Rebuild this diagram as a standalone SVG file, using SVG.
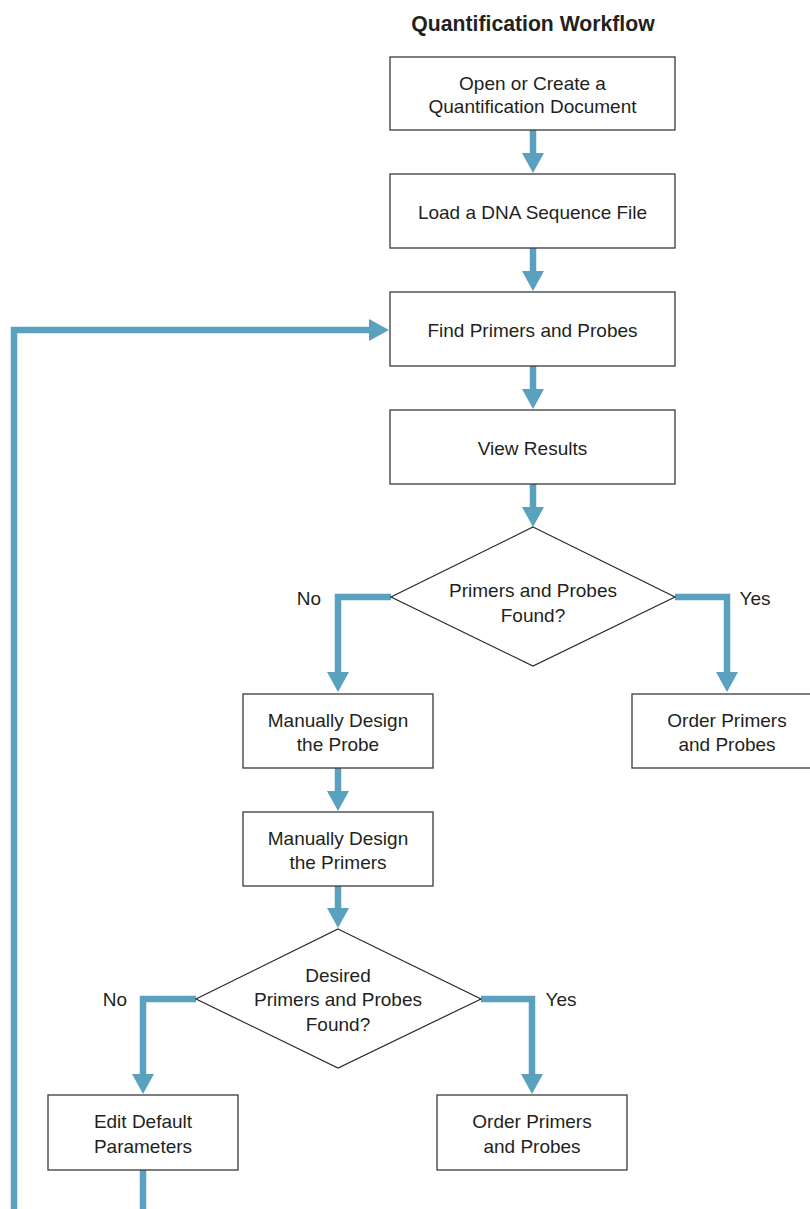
<svg xmlns="http://www.w3.org/2000/svg" width="810" height="1209" viewBox="0 0 810 1209">
<defs>
<style>
.box{fill:#fff;stroke:#3a3a3a;stroke-width:1.3}
.dia{fill:#fff;stroke:#2a2a2a;stroke-width:1.2}
.t{font-family:"Liberation Sans",Arial,sans-serif;font-size:19px;fill:#231f20;text-anchor:middle}
.title{font-family:"Liberation Sans",Arial,sans-serif;font-size:21.2px;font-weight:bold;fill:#231f20;text-anchor:middle}
.c{fill:none;stroke:#5aa1bf;stroke-width:6.5;stroke-linejoin:miter}
.a{marker-end:url(#ah)}
</style>
<marker id="ah" viewBox="0 0 20 22" refX="10" refY="11" markerWidth="20" markerHeight="22" markerUnits="userSpaceOnUse" orient="auto">
<path d="M0,0 L20,11 L0,22 z" fill="#5aa1bf"/>
</marker>
</defs>
<rect width="810" height="1209" fill="#fff"/>
<text class="title" x="533" y="31">Quantification Workflow</text>

<g id="connectors">
<path class="c a" d="M533,130 V163"/>
<path class="c a" d="M533,248 V281"/>
<path class="c a" d="M533,366 V399"/>
<path class="c a" d="M533,484 V517"/>
<path class="c a" d="M14,1215 V330 H379"/>
<path class="c a" d="M391,597 H338 V682"/>
<path class="c a" d="M675,597 H727 V682"/>
<path class="c a" d="M338,768 V801"/>
<path class="c a" d="M338,886 V918"/>
<path class="c a" d="M196,999 H143 V1084"/>
<path class="c a" d="M481,999 H532 V1084"/>
<path class="c" d="M143,1170 V1215"/>
</g>

<g id="n-open">
<rect class="box" x="390" y="57" width="285" height="73"/>
<text class="t" x="532.5" y="90">Open or Create a</text>
<text class="t" x="532.5" y="113">Quantification Document</text>
</g>
<g id="n-load">
<rect class="box" x="390" y="174" width="285" height="74"/>
<text class="t" x="532.5" y="219">Load a DNA Sequence File</text>
</g>
<g id="n-find">
<rect class="box" x="390" y="292" width="285" height="74"/>
<text class="t" x="532.5" y="337">Find Primers and Probes</text>
</g>
<g id="n-view">
<rect class="box" x="390" y="410" width="285" height="74"/>
<text class="t" x="532.5" y="455">View Results</text>
</g>
<g id="n-found1">
<polygon class="dia" points="533,527 675,597 533,666 391,597"/>
<text class="t" x="533" y="597">Primers and Probes</text>
<text class="t" x="533" y="622">Found?</text>
<text class="t" x="309" y="605">No</text>
<text class="t" x="755" y="605">Yes</text>
</g>
<g id="n-probe">
<rect class="box" x="243" y="694" width="190" height="74"/>
<text class="t" x="338" y="727">Manually Design</text>
<text class="t" x="338" y="751">the Probe</text>
</g>
<g id="n-order1">
<rect class="box" x="632" y="694" width="190" height="74"/>
<text class="t" x="727" y="727">Order Primers</text>
<text class="t" x="727" y="751">and Probes</text>
</g>
<g id="n-primers">
<rect class="box" x="243" y="812" width="190" height="74"/>
<text class="t" x="338" y="845">Manually Design</text>
<text class="t" x="338" y="869">the Primers</text>
</g>
<g id="n-found2">
<polygon class="dia" points="338,929 481,999 338,1068 196,999"/>
<text class="t" x="338" y="982">Desired</text>
<text class="t" x="338" y="1006">Primers and Probes</text>
<text class="t" x="338" y="1031">Found?</text>
<text class="t" x="115" y="1006">No</text>
<text class="t" x="561" y="1006">Yes</text>
</g>
<g id="n-edit">
<rect class="box" x="48" y="1095" width="190" height="75"/>
<text class="t" x="143" y="1128">Edit Default</text>
<text class="t" x="143" y="1153">Parameters</text>
</g>
<g id="n-order2">
<rect class="box" x="437" y="1095" width="190" height="75"/>
<text class="t" x="532" y="1128">Order Primers</text>
<text class="t" x="532" y="1153">and Probes</text>
</g>
</svg>
